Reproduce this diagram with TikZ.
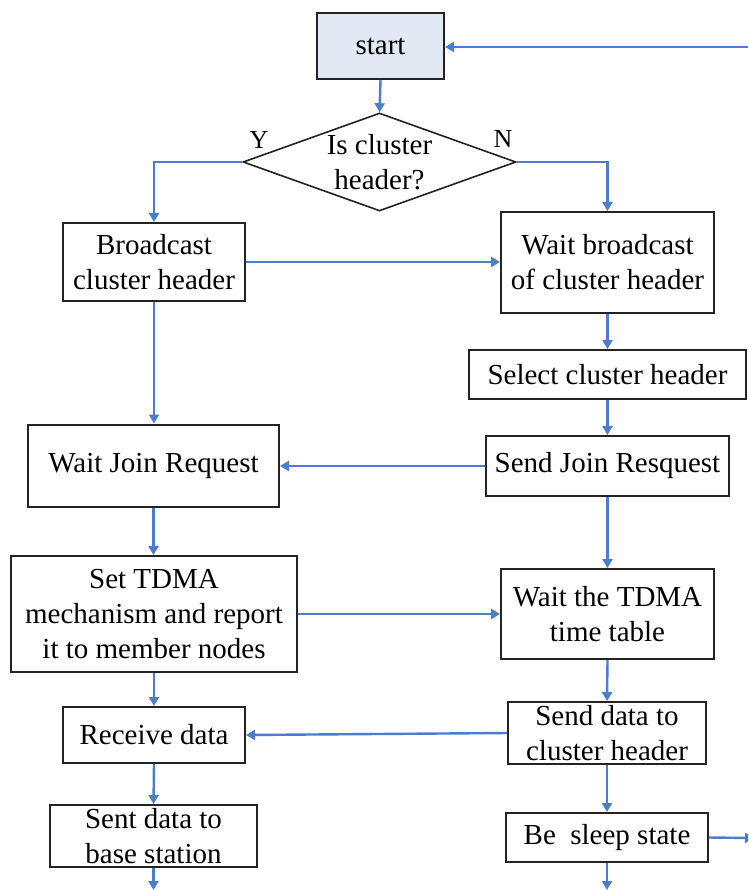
\documentclass[tikz,border=0pt]{standalone}
\usepackage{fontspec}
\setmainfont{Liberation Serif}
\usetikzlibrary{arrows.meta,shapes.geometric}

\definecolor{flowblue}{RGB}{76,124,204}
\definecolor{startfill}{RGB}{226,233,245}
\definecolor{boxline}{RGB}{35,35,35}

\tikzset{
  stepbox/.style={draw=boxline, line width=2pt, inner sep=0pt,
    align=center, font=\fontsize{29}{35}\selectfont},
  decision/.style={draw=boxline, line width=1.6pt, diamond, inner sep=0pt},
  flow/.style={draw=flowblue, line width=2.4pt,
    -{Triangle[length=9pt,width=10pt]}},
  yn/.style={font=\fontsize{26}{30}\selectfont, inner sep=0pt}
}

\begin{document}
\begin{tikzpicture}[x=1pt,y=-1pt]
  \useasboundingbox (0,0) rectangle (748,890);
  \clip (0,0) rectangle (748,890);
  \fill[white] (0,0) rectangle (748,890);

  % process boxes
  \node[stepbox, fill=startfill, minimum width=127pt, minimum height=66pt] (start) at (380.5,46) {start};
  \node[decision, minimum width=273pt, minimum height=98pt,
        label={[align=center, font=\fontsize{29}{35}\selectfont]center:Is cluster\\header?}] (dia) at (379.5,162) {};
  \node[stepbox, minimum width=182pt, minimum height=78pt] (bc) at (154,262) {Broadcast\\cluster header};
  \node[stepbox, minimum width=213pt, minimum height=101pt] (waitB) at (607.5,262.5) {Wait broadcast\\of cluster header};
  \node[stepbox, minimum width=277pt, minimum height=49pt] (sel) at (607.5,374.5) {Select cluster header};
  \node[stepbox, minimum width=243pt, minimum height=60pt] (sendJ) at (607.5,466) {Send Join Resquest};
  \node[stepbox, minimum width=251pt, minimum height=82pt] (waitJ) at (153.5,465.5) {Wait Join Request};
  \node[stepbox, minimum width=286pt, minimum height=116pt] (setT) at (154,614) {Set TDMA\\mechanism and report\\it to member nodes};
  \node[stepbox, minimum width=213pt, minimum height=90pt] (waitT) at (607.5,614) {Wait the TDMA\\time table};
  \node[stepbox, minimum width=198pt, minimum height=62pt] (sendD) at (607,733) {Send data to\\cluster header};
  \node[stepbox, minimum width=182pt, minimum height=56pt] (recv) at (154,735) {Receive data};
  \node[stepbox, minimum width=207pt, minimum height=62pt] (sentD) at (153.5,836) {Sent data to\\base station};
  \node[stepbox, minimum width=202pt, minimum height=49pt] (sleep) at (607,837.5) {Be~ sleep state};

  % branch labels
  \node[yn] (ylab) at (259,140) {Y};
  \node[yn] (nlab) at (503,139) {N};

  % free ends at the picture border
  \coordinate (loopIn) at (748,47);
  \coordinate (loopOut) at (754,838);
  \coordinate (downL) at (153.5,890);
  \coordinate (downR) at (607,890);

  % connectors
  \draw[flow] (loopIn) -- (start.east |- loopIn);
  \draw[flow] (start.south) -- (dia.north);
  \draw[flow] (dia.west) -| (bc.north);
  \draw[flow] (dia.east) -| (waitB.north);
  \draw[flow] (bc.east) -- (bc.east -| waitB.west);
  \draw[flow] (waitB.south) -- (sel.north);
  \draw[flow] (sel.south) -- (sendJ.north);
  \draw[flow] (sendJ.west) -- (sendJ.west -| waitJ.east);
  \draw[flow] (bc.south) -- (bc.south |- waitJ.north);
  \draw[flow] (waitJ.south) -- (waitJ.south |- setT.north);
  \draw[flow] (setT.east) -- (setT.east -| waitT.west);
  \draw[flow] (sendJ.south) -- (waitT.north);
  \draw[flow] (waitT.south) -- (sendD.north);
  \draw[flow] (sendD.west) -- (recv.east);
  \draw[flow] (setT.south) -- (recv.north);
  \draw[flow] (recv.south) -- (sentD.north);
  \draw[flow] (sentD.south) -- (downL);
  \draw[flow] (sendD.south) -- (sleep.north);
  \draw[flow] (sleep.south) -- (downR);
  \draw[flow] (sleep.east) -- (loopOut);
\end{tikzpicture}
\end{document}
